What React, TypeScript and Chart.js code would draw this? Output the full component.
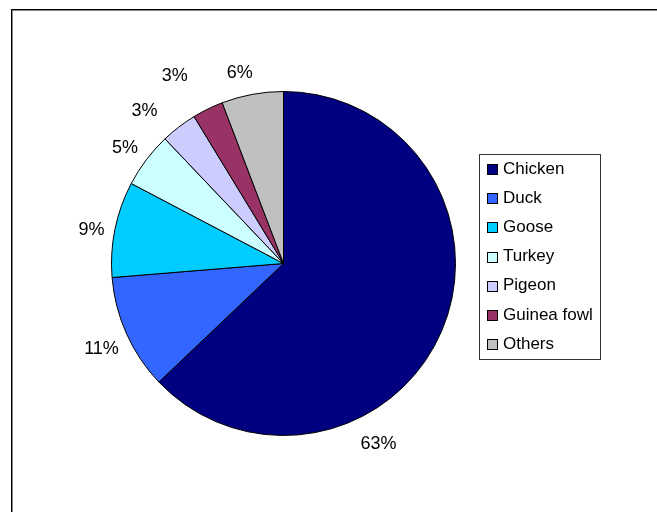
import React, { useEffect, useRef } from "react";
import { Chart, registerables } from "chart.js";

Chart.register(...registerables);

const categories = ["Chicken", "Duck", "Goose", "Turkey", "Pigeon", "Guinea fowl", "Others"];
const shares = [62.9, 10.8, 9.0, 5.2, 3.4, 2.9, 5.8];
const sliceColors = ["#000080", "#3366FF", "#00CCFF", "#CCFFFF", "#CCCCFF", "#993366", "#C0C0C0"];
const titleText = "Share of poultry species";

// label placement tweaks (degrees / px) relative to each slice's mid angle
const labelNudgeDeg = [39, -1, -1.6, -1, -5, -4, -2.5];
const labelNudgeR = [6, 3, -3, -2, 8, 19, -3];

const W = 657;
const H = 512;

const framePlugin = {
  id: "frameAndTitle",
  beforeDraw(chart: any) {
    const ctx = chart.ctx;
    ctx.save();
    ctx.fillStyle = "#ffffff";
    ctx.fillRect(0, 0, W, H);
    // outer frame
    ctx.fillStyle = "#000000";
    ctx.fillRect(11, 9, W, 1);
    ctx.fillRect(11, 9, 1, H);
    ctx.fillStyle = "#888888";
    ctx.fillRect(12, 10, W, 1);
    ctx.fillRect(12, 10, 1, H);
    // title (cut off at the top)
    ctx.font = "bold 28px 'Liberation Serif', 'Times New Roman', serif";
    ctx.fillStyle = "#000000";
    ctx.textBaseline = "alphabetic";
    ctx.textAlign = "left";
    const pre = ctx.measureText("Share of poultr").width;
    ctx.fillText(titleText, 478 - pre, -6.2);
    ctx.restore();
  },
};

const labelsPlugin = {
  id: "pctLabels",
  afterDatasetsDraw(chart: any) {
    const ctx = chart.ctx;
    const meta = chart.getDatasetMeta(0);
    const data = chart.data.datasets[0].data as number[];
    const total = data.reduce((a, b) => a + b, 0);
    ctx.save();
    ctx.font = "18px 'Liberation Sans', Arial, sans-serif";
    ctx.fillStyle = "#000000";
    ctx.textAlign = "center";
    ctx.textBaseline = "middle";
    meta.data.forEach((arc: any, i: number) => {
      const p = arc.getProps(["x", "y", "startAngle", "endAngle", "outerRadius"], true);
      const mid = (p.startAngle + p.endAngle) / 2 + (labelNudgeDeg[i] * Math.PI) / 180;
      const r = p.outerRadius + 26 + labelNudgeR[i];
      const tx = p.x + Math.cos(mid) * r;
      const ty = p.y + Math.sin(mid) * r;
      ctx.fillText(Math.round((data[i] / total) * 100) + "%", tx, ty);
    });
    ctx.restore();
  },
};

const legendPlugin = {
  id: "customLegend",
  afterDraw(chart: any) {
    const ctx = chart.ctx;
    const labels = chart.data.labels as string[];
    const colors = chart.data.datasets[0].backgroundColor as string[];
    ctx.save();
    ctx.fillStyle = "#ffffff";
    ctx.fillRect(479, 154, 121, 205);
    ctx.strokeStyle = "#333333";
    ctx.lineWidth = 1;
    ctx.strokeRect(479.5, 154.5, 121, 205);
    ctx.font = "17px 'Liberation Sans', Arial, sans-serif";
    ctx.textAlign = "left";
    ctx.textBaseline = "middle";
    labels.forEach((lab, i) => {
      const cy = 169 + i * 29.17;
      ctx.fillStyle = colors[i];
      ctx.fillRect(487, Math.round(cy - 5), 11, 11);
      ctx.strokeStyle = "#000000";
      ctx.strokeRect(487.5, Math.round(cy - 5) + 0.5, 10, 10);
      ctx.fillStyle = "#000000";
      ctx.fillText(lab, 503, cy);
    });
    ctx.restore();
  },
};

export default function App() {
  const ref = useRef<HTMLCanvasElement | null>(null);
  useEffect(() => {
    if (!ref.current) return;
    const chart = new Chart(ref.current, {
      type: "pie",
      data: {
        labels: categories,
        datasets: [
          {
            data: shares,
            backgroundColor: sliceColors,
            borderColor: "#000000",
            borderWidth: 1,
            hoverOffset: 0,
          },
        ],
      },
      options: {
        responsive: false,
        animation: false,
        events: [],
        layout: { padding: { left: 111, right: W - 111 - 345, top: 91, bottom: H - 91 - 345 } },
        plugins: {
          legend: { display: false },
          tooltip: { enabled: false },
          title: { display: false },
        },
      },
      plugins: [framePlugin, labelsPlugin, legendPlugin],
    });
    return () => chart.destroy();
  }, []);
  return (
    <div style={{ position: "absolute", left: 0, top: 0, width: W, height: H, overflow: "hidden" }}>
      <canvas ref={ref} width={W} height={H} style={{ display: "block", width: W, height: H }} />
    </div>
  );
}
